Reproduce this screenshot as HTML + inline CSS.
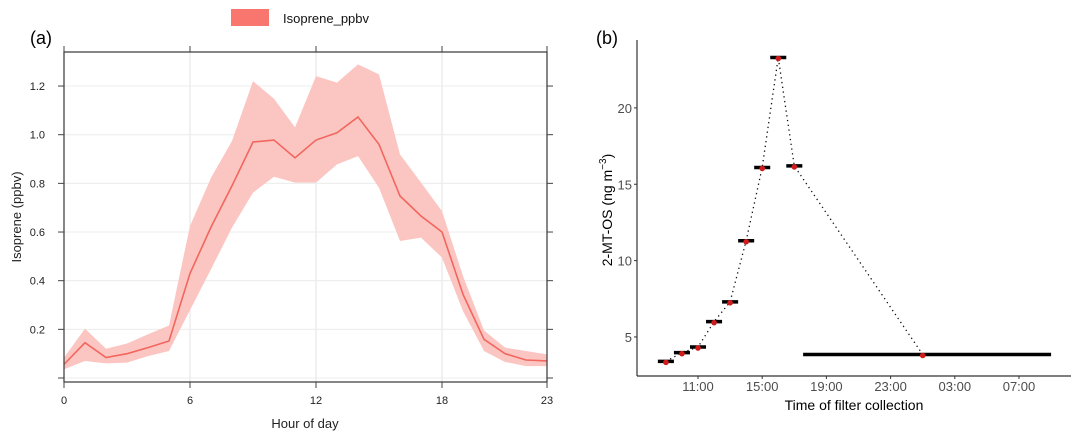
<!DOCTYPE html>
<html><head><meta charset="utf-8">
<style>
html,body{margin:0;padding:0;background:#fff;}
svg{display:block;font-family:"Liberation Sans",Arial,sans-serif;}
</style></head>
<body>
<svg id="fig" width="1081" height="441" viewBox="0 0 1081 441" xmlns="http://www.w3.org/2000/svg">
  <g id="pa"></g>
  <g id="pb"></g>
</svg>
<script>
// ---------- Panel (a) data ----------
const hours = [0,1,2,3,4,5,6,7,8,9,10,11,12,13,14,15,16,17,18,19,20,21,22,23];
const isopreneMean = [0.056,0.145,0.084,0.10,0.125,0.152,0.43,0.62,0.79,0.97,0.978,0.905,0.978,1.008,1.073,0.96,0.748,0.666,0.60,0.344,0.159,0.10,0.074,0.07];
const isopreneUpper = [0.084,0.203,0.12,0.142,0.18,0.216,0.625,0.823,0.974,1.22,1.148,1.03,1.241,1.214,1.289,1.248,0.919,0.803,0.686,0.419,0.196,0.125,0.111,0.097];
const isopreneLower = [0.036,0.07,0.06,0.063,0.09,0.111,0.279,0.447,0.618,0.762,0.827,0.803,0.803,0.878,0.912,0.782,0.563,0.577,0.495,0.275,0.111,0.066,0.049,0.049];
const aXTicks = [0,6,12,18,23];
const aYTicks = [0.2,0.4,0.6,0.8,1.0,1.2];
const aYTickLabels = ["0.2","0.4","0.6","0.8","1.0","1.2"];

// ---------- Panel (b) data ----------
const sampleMid = [9,10,11,12,13,14,15,16,17,25];
const sampleStart = [8.5,9.5,10.5,11.5,12.5,13.5,14.5,15.5,16.5,17.55];
const sampleEnd = [9.5,10.5,11.5,12.5,13.5,14.5,15.5,16.5,17.5,33];
const mtosValues = [3.4,3.97,4.34,6.0,7.3,11.3,16.1,23.3,16.2,3.85];
const bXTicks = [11,15,19,23,27,31];
const bXTickLabels = ["11:00","15:00","19:00","23:00","03:00","07:00"];
const bYTicks = [5,10,15,20];
const bYTickLabels = ["5","10","15","20"];

const NS = "http://www.w3.org/2000/svg";
function mk(parent, tag, attrs, text){
  const e = document.createElementNS(NS, tag);
  for (const k in attrs) e.setAttribute(k, attrs[k]);
  if (text !== undefined) e.textContent = text;
  parent.appendChild(e);
  return e;
}

// ===== Panel A =====
const pa = document.getElementById('pa');
const ax = h => 64 + (h - 0) * 21;
const ay = v => 378 - v * 243.3;
const aL = 64, aR = 547, aT = 52, aB = 382;

// grid
aXTicks.slice(1,4).forEach(t => {
  const g = mk(pa,'line',{x1:ax(t),x2:ax(t),y1:aT,y2:aB,stroke:'#e3e3e3','stroke-width':1});
  
  
});
[0].concat(aYTicks).forEach(t => {
  const g = mk(pa,'line',{x1:aL,x2:aR,y1:ay(t),y2:ay(t),stroke:'#ececec','stroke-width':1});
  
  
});

// band
let bandPts = hours.map((h,i)=>ax(h)+','+ay(isopreneUpper[i]));
bandPts = bandPts.concat(hours.slice().reverse().map((h,j)=>{const i=hours.length-1-j;return ax(h)+','+ay(isopreneLower[i]);}));
const band = mk(pa,'polygon',{points:bandPts.join(' '),fill:'#fbc6c2'});


const meanLine = mk(pa,'polyline',{points:hours.map((h,i)=>ax(h)+','+ay(isopreneMean[i])).join(' '),fill:'none',stroke:'#f2665e','stroke-width':1.6});



// frame
const frame = mk(pa,'rect',{x:aL,y:aT,width:aR-aL,height:aB-aT,fill:'none',stroke:'#444','stroke-width':1.3});



// x ticks
aXTicks.forEach(t=>{
  mk(pa,'line',{x1:ax(t),x2:ax(t),y1:aB,y2:aB+6,stroke:'#444'});
  mk(pa,'line',{x1:ax(t),x2:ax(t),y1:aT,y2:aT-6,stroke:'#444'});
  const lb = mk(pa,'text',{x:ax(t),y:aB+22,'text-anchor':'middle','font-size':11,fill:'#222'},String(t));
  
  
});
// y ticks
[0].concat(aYTicks).forEach(t=>{
  mk(pa,'line',{x1:aL-6,x2:aL,y1:ay(t),y2:ay(t),stroke:'#444'});
  mk(pa,'line',{x1:aR,x2:aR+6,y1:ay(t),y2:ay(t),stroke:'#444'});
});
aYTicks.forEach((t,i)=>{
  const lb = mk(pa,'text',{x:45,y:ay(t)+4,'text-anchor':'end','font-size':11,fill:'#222'},aYTickLabels[i]);
  
  
});
</script>
<script>
// static labels panel A
(function(){
  const pa = document.getElementById('pa');
  const NS = "http://www.w3.org/2000/svg";
})();
</script>
<svg width="0" height="0" style="position:absolute"></svg>
<script>
(function(){
  const pa = document.getElementById('pa');
  const NS = "http://www.w3.org/2000/svg";
  function t(attrs, text, name){
    const e = document.createElementNS(NS,'text');
    for (const k in attrs) e.setAttribute(k, attrs[k]);
    e.textContent = text;
    
    
    pa.appendChild(e);
    return e;
  }
  t({x:305,y:428,'text-anchor':'middle','font-size':13,fill:'#222'},'Hour of day','x-axis-title');
  t({x:0,y:0,'text-anchor':'middle','font-size':13,fill:'#222',transform:'translate(21,217) rotate(-90)'},'Isoprene (ppbv)','y-axis-title');
  t({x:30,y:44,'font-size':18,fill:'#000'},'(a)','panel-a-label');
  const r = document.createElementNS(NS,'rect');
  r.setAttribute('x',231);r.setAttribute('y',9);r.setAttribute('width',38);r.setAttribute('height',17);r.setAttribute('fill','#f8766d');
  
  
  pa.appendChild(r);
  t({x:283,y:23,'font-size':13,fill:'#111'},'Isoprene_ppbv','legend-label');
})();
</script>
<script>
// ===== Panel B =====
(function(){
const pb = document.getElementById('pb');
const bx = h => 698 + (h - 11) * 16.05;
const by = v => 413.3 - v * 15.27;
const bL = 637, bR = 1071, bT = 40, bB = 376;

const ya = mk(pb,'line',{x1:bL,x2:bL,y1:bT,y2:bB,stroke:'#333','stroke-width':1.2});


const xa = mk(pb,'line',{x1:bL,x2:bR,y1:bB,y2:bB,stroke:'#333','stroke-width':1.2});



bXTicks.forEach((tk,i)=>{
  mk(pb,'line',{x1:bx(tk),x2:bx(tk),y1:bB,y2:bB+3,stroke:'#333'});
  const lb = mk(pb,'text',{x:bx(tk),y:bB+15,'text-anchor':'middle','font-size':13,fill:'#4d4d4d'},bXTickLabels[i]);
  
  
});
bYTicks.forEach((tk,i)=>{
  mk(pb,'line',{x1:bL-3,x2:bL,y1:by(tk),y2:by(tk),stroke:'#333'});
  const lb = mk(pb,'text',{x:bL-5,y:by(tk)+5,'text-anchor':'end','font-size':13,fill:'#4d4d4d'},bYTickLabels[i]);
  
  
});

const dl = mk(pb,'polyline',{points:sampleMid.map((h,i)=>bx(h)+','+by(mtosValues[i])).join(' '),fill:'none',stroke:'#111','stroke-width':1.3,'stroke-dasharray':'1.3 3.5'});



sampleMid.forEach((h,i)=>{
  const bar = mk(pb,'line',{x1:bx(sampleStart[i]),x2:bx(sampleEnd[i]),y1:by(mtosValues[i]),y2:by(mtosValues[i]),stroke:'#000','stroke-width':3.5});
  
  
  const pt = mk(pb,'circle',{cx:bx(h),cy:by(mtosValues[i])+1,r:2.8,fill:'#d01c1c'});
  
  
});

const xt = mk(pb,'text',{x:854,y:410,'text-anchor':'middle','font-size':14,fill:'#000'},'Time of filter collection');


const yt = mk(pb,'text',{x:0,y:0,'text-anchor':'middle','font-size':14,fill:'#000',transform:'translate(612,210) rotate(-90)'});


yt.appendChild(document.createTextNode('2-MT-OS (ng m'));
const sup = document.createElementNS(NS,'tspan');
sup.setAttribute('dy','-6');sup.setAttribute('font-size','10');
sup.textContent='−3';
yt.appendChild(sup);
const cl = document.createElementNS(NS,'tspan');
cl.setAttribute('dy','6');
cl.textContent=')';
yt.appendChild(cl);
const pl = mk(pb,'text',{x:596,y:44,'font-size':18,fill:'#000'},'(b)');


})();
</script>
</body></html>
